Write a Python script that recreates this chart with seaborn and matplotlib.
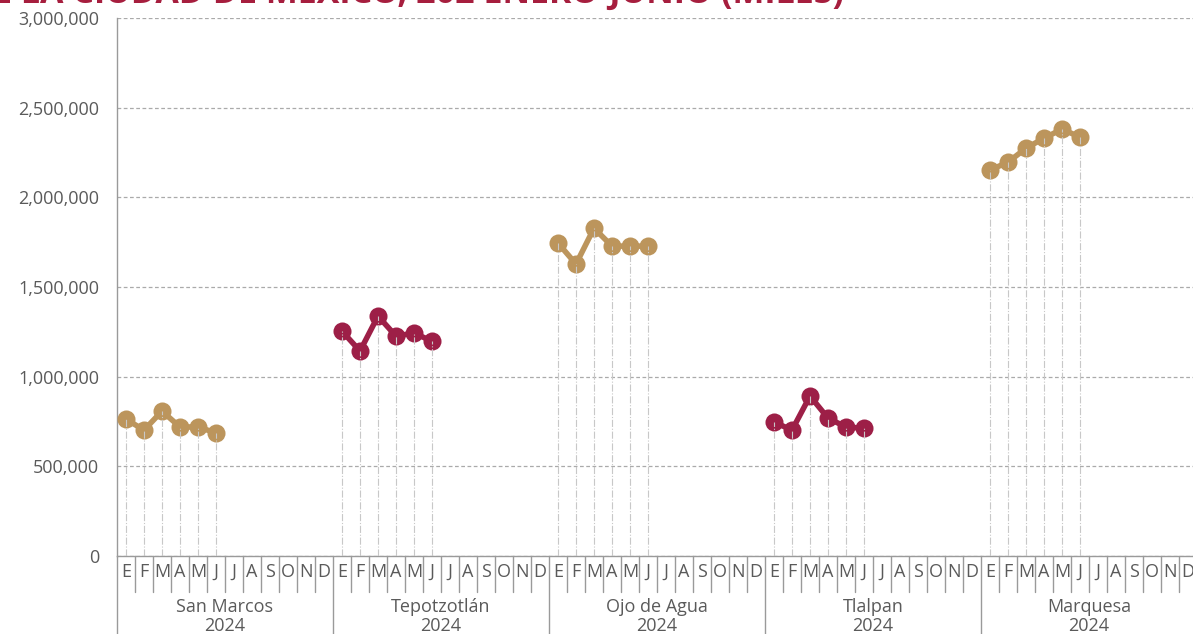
import numpy as np
import pandas as pd
import seaborn as sns
import matplotlib.pyplot as plt

TITLE = 'E LA CIUDAD DE MÉXICO, 202 ENERO-JUNIO (MILES)'
PLACES = ['San Marcos', 'Tepotzotlán', 'Ojo de Agua', 'Tlalpan', 'Marquesa']
YEAR = '2024'
MONTHS = ['E', 'F', 'M', 'A', 'M', 'J', 'J', 'A', 'S', 'O', 'N', 'D']
SAN_MARCOS = [763000, 702000, 808000, 719000, 720000, 686000]
TEPOTZOTLAN = [1254000, 1143000, 1338000, 1226000, 1243000, 1198000]
OJO_DE_AGUA = [1745000, 1628000, 1828000, 1728000, 1728000, 1728000]
TLALPAN = [747000, 702000, 892000, 769000, 719000, 713000]
MARQUESA = [2152000, 2196000, 2274000, 2330000, 2380000, 2336000]
SERIES = [SAN_MARCOS, TEPOTZOTLAN, OJO_DE_AGUA, TLALPAN, MARQUESA]

GOLD = '#BC955C'
MAROON = '#9D1F47'
COLORS = [GOLD, MAROON, GOLD, MAROON, GOLD]
GRAY = '#9a9a9a'
TXT = '#5a5a5a'

sns.set_style('white')
plt.rcParams['font.family'] = ['Open Sans', 'DejaVu Sans']

fig = plt.figure(figsize=(11.93, 6.34), dpi=100)
ax = fig.add_axes([117 / 1193, 78 / 634, 1080 / 1193, 538 / 634])

for g, (vals, col) in enumerate(zip(SERIES, COLORS)):
    df = pd.DataFrame({'x': [g * 12 + i + 0.5 for i in range(len(vals))], 'y': vals})
    sns.lineplot(data=df, x='x', y='y', ax=ax, color=col, lw=4, marker='o',
                 markersize=13, markeredgewidth=0, zorder=3)
    ax.vlines(df['x'], 0, df['y'], colors='#c8c8c8', linestyles='dashdot', lw=0.8, zorder=4)

ax.set_xlim(0, 60)
ax.set_ylim(0, 3000000)
ax.set_yticks(np.arange(0, 3000001, 500000))
ax.set_yticklabels([f'{int(v):,}' for v in np.arange(0, 3000001, 500000)], color=TXT, fontsize=13)
ax.yaxis.grid(True, linestyle=(0, (3, 2)), color='#aaaaaa', lw=0.9)
ax.tick_params(axis='y', length=0, pad=13)

centers = np.arange(60) + 0.5
ax.set_xticks(centers)
ax.set_xticklabels(MONTHS * 5, color=TXT, fontsize=13)
ax.tick_params(axis='x', length=0, pad=5)
ax.set_xlabel('')
ax.set_ylabel('')

for s in ['top', 'right']:
    ax.spines[s].set_visible(False)
for s in ['left', 'bottom']:
    ax.spines[s].set_color(GRAY)
    ax.spines[s].set_linewidth(1)

trans = ax.get_xaxis_transform()
for i in range(61):
    bottom = -0.145 if i % 12 == 0 else -0.067
    ax.plot([i, i], [0, bottom], color=GRAY, lw=1, transform=trans, clip_on=False)

for g, place in enumerate(PLACES):
    ax.text(g * 12 + 6, -0.078, f'{place}\n{YEAR}', transform=trans, ha='center', va='top',
            color=TXT, fontsize=13, linespacing=1.05)

fig.text(-0.006, 1.0 - 3 / 634, TITLE, ha='left', va='baseline', color='#A61E3E',
         fontsize=24.5, fontweight='bold')

fig.savefig('out.png', dpi=100)
